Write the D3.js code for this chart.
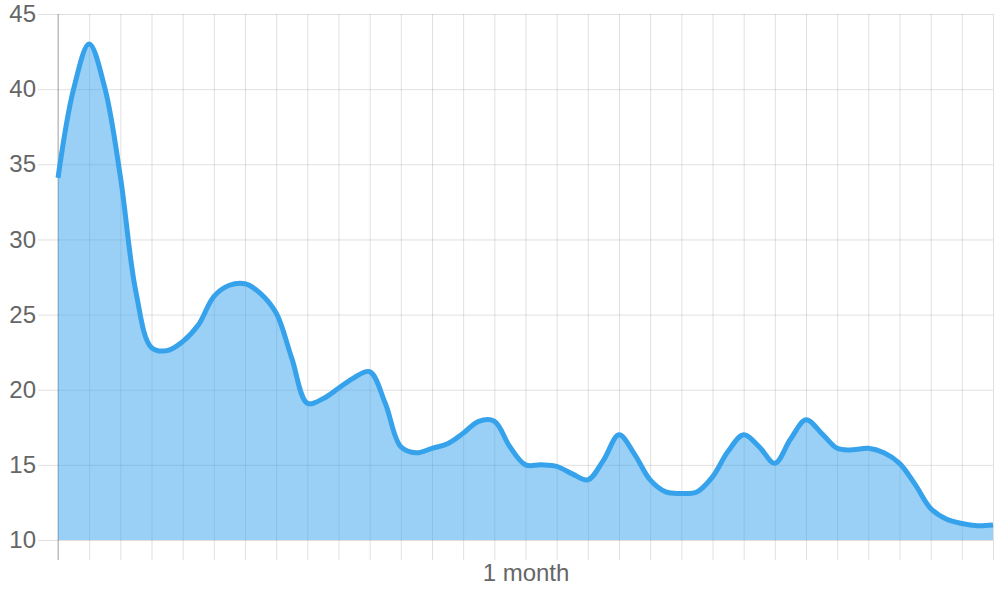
<!DOCTYPE html>
<html>
<head>
<meta charset="utf-8">
<script src="https://cdn.jsdelivr.net/npm/d3@7"></script>
<style>
  body { margin: 0; background: #fff; }
  svg { display: block; }
  text { font-family: "Liberation Sans", Arial, Helvetica, sans-serif; }
</style>
</head>
<body>
<svg id="chart"></svg>
<script>
// one value every half grid step (61 samples over the axis)
const days = d3.range(0, 61);
const values = [
  34.1, 40.0, 43.0, 40.1, 34.2, 26.5, 22.8, 22.6, 23.2, 24.3,
  26.2, 26.95, 27.05, 26.4, 25.1, 22.1, 19.1, 19.4, 20.1, 20.8,
  21.2, 19.1, 16.2, 15.8, 16.1, 16.4, 17.1, 17.9, 17.9, 16.2,
  15.0, 15.0, 14.9, 14.4, 14.0, 15.3, 17.0, 15.7, 14.0, 13.2,
  13.1, 13.2, 14.2, 15.9, 17.0, 16.2, 15.1, 16.7, 18.0, 17.1,
  16.1, 16.0, 16.1, 15.8, 15.1, 13.7, 12.1, 11.4, 11.1, 10.95,
  11.0
];
const yTicks = [10, 15, 20, 25, 30, 35, 40, 45];
const xGridTicks = d3.range(0, 61, 2);
const xLabelAt = 30;
const xLabel = "1 month";

const data = days.map((d, i) => ({ day: d, value: values[i] }));

const margin = { top: 14, right: 7, bottom: 60, left: 58 },
  width = 1000 - margin.left - margin.right,
  height = 600 - margin.top - margin.bottom;

const svg = d3
  .select("#chart")
  .attr("width", 1000)
  .attr("height", 600)
  .append("g")
  .attr("transform", "translate(" + margin.left + "," + margin.top + ")");

const x = d3.scaleLinear().domain([0, 60]).range([0, width]);
const y = d3.scaleLinear().domain([10, 45]).range([height, 0]);

const gridColor = "rgba(0,0,0,0.12)";

// y grid + labels
const yAxis = svg
  .append("g")
  .call(d3.axisLeft(y).tickValues(yTicks).tickSize(-width).tickPadding(22));
yAxis.select(".domain").remove();
yAxis.selectAll(".tick line")
  .attr("x1", -20)
  .attr("stroke", gridColor);
yAxis.selectAll(".tick text")
  .attr("fill", "#666")
  .style("font-size", "24px");

// x grid + label
const xAxis = svg
  .append("g")
  .attr("transform", "translate(0," + height + ")")
  .call(
    d3.axisBottom(x)
      .tickValues(xGridTicks)
      .tickSize(-height)
      .tickPadding(24)
      .tickFormat((d) => (d === xLabelAt ? xLabel : ""))
  );
xAxis.select(".domain").remove();
xAxis.selectAll(".tick line")
  .attr("y1", 20)
  .attr("stroke", gridColor);
xAxis.selectAll(".tick text")
  .attr("fill", "#666")
  .style("font-size", "24px");

// left border, a bit darker
svg
  .append("line")
  .attr("x1", 0)
  .attr("x2", 0)
  .attr("y1", 0)
  .attr("y2", height + 20)
  .attr("stroke", "rgba(0,0,0,0.28)");

const area = d3
  .area()
  .curve(d3.curveCatmullRom.alpha(0.5))
  .x((d) => x(d.day))
  .y0(y(10))
  .y1((d) => y(d.value));

const line = d3
  .line()
  .curve(d3.curveCatmullRom.alpha(0.5))
  .x((d) => x(d.day))
  .y((d) => y(d.value));

svg
  .append("path")
  .datum(data)
  .attr("fill", "rgba(54,162,235,0.5)")
  .attr("d", area);

svg
  .append("path")
  .datum(data)
  .attr("fill", "none")
  .attr("stroke", "rgb(54,162,235)")
  .attr("stroke-width", 5)
  .attr("stroke-linejoin", "round")
  .attr("d", line);
</script>
</body>
</html>
